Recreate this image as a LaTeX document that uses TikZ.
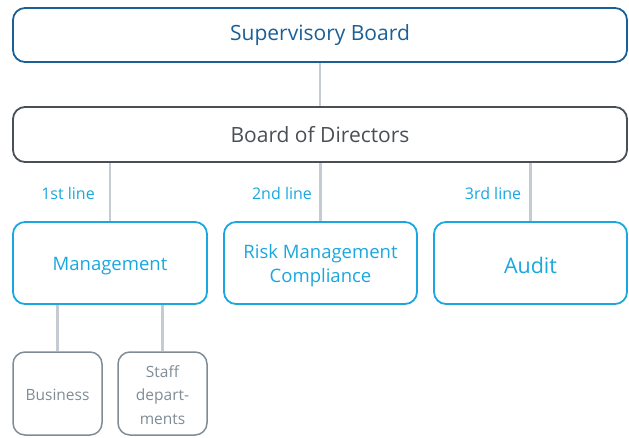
\documentclass[tikz,border=0pt]{standalone}
\usepackage{fontspec}
\setmainfont{Open Sans}
\definecolor{sbblue}{HTML}{1A5F96}
\definecolor{bodgray}{HTML}{4A4F55}
\definecolor{cyanc}{HTML}{1AA7DF}
\definecolor{linegray}{HTML}{C5CBD1}
\definecolor{subgray}{HTML}{7F8C95}
\begin{document}
\begin{tikzpicture}[x=1pt,y=-1pt,
  box/.style={draw,rounded corners=12pt,line width=1.8pt,inner sep=0pt,align=center},
  conn/.style={draw=linegray,line width=2.6pt},
  lbl/.style={text=cyanc,font=\fontsize{16}{18}\selectfont,anchor=center}]
\useasboundingbox (0,0) rectangle (629,437);
\node[box,draw=sbblue,minimum width=614pt,minimum height=54pt] (sb) at (320,35) {};
\node[text=sbblue,font=\fontsize{21}{24}\selectfont] (sbt) at (320,35) {Supervisory Board};
\node[box,draw=bodgray,minimum width=614pt,minimum height=55pt] (bod) at (320,134.5) {};
\node[text=bodgray,font=\fontsize{21}{24}\selectfont] (bodt) at (320,135) {Board of Directors};
\node[box,draw=cyanc,minimum width=194pt,minimum height=82pt] (mg) at (110,263) {};
\node[text=cyanc,font=\fontsize{18.5}{24}\selectfont] (mgt) at (110,266) {Management};
\node[box,draw=cyanc,minimum width=193pt,minimum height=82pt] (rm) at (320.5,263) {};
\node[text=cyanc,font=\fontsize{18.5}{24}\selectfont,align=center] (rmt) at (320.5,266) {Risk Management\\Compliance};
\node[box,draw=cyanc,minimum width=193pt,minimum height=82pt] (au) at (530.5,263) {};
\node[text=cyanc,font=\fontsize{21.5}{24}\selectfont] (aut) at (530.5,265) {Audit};
\node[box,draw=subgray,minimum width=89pt,minimum height=83pt,line width=1.5pt] (bu) at (57.5,393.5) {};
\node[text=subgray,font=\fontsize{15.5}{21}\selectfont] (but) at (57.5,395) {Business};
\node[box,draw=subgray,minimum width=89pt,minimum height=83pt,line width=1.5pt] (sd) at (162.5,393.5) {};
\node[text=subgray,font=\fontsize{15.5}{23.5}\selectfont,align=center] (sdt) at (162.5,395) {Staff\\depart-\\ments};
\draw[conn] (sb.south) -- (bod.north);
\draw[conn] (bod.south -| mg.north) -- (mg.north);
\draw[conn] (bod.south -| rm.north) -- (rm.north);
\draw[conn] (bod.south -| au.north) -- (au.north);
\draw[conn] (mg.south -| bu.north) -- (bu.north);
\draw[conn] (mg.south -| sd.north) -- (sd.north);
\node[lbl] (l1) at (68,193) {1st line};
\node[lbl] (l2) at (282,193) {2nd line};
\node[lbl] (l3) at (493,193) {3rd line};
\end{tikzpicture}
\end{document}
